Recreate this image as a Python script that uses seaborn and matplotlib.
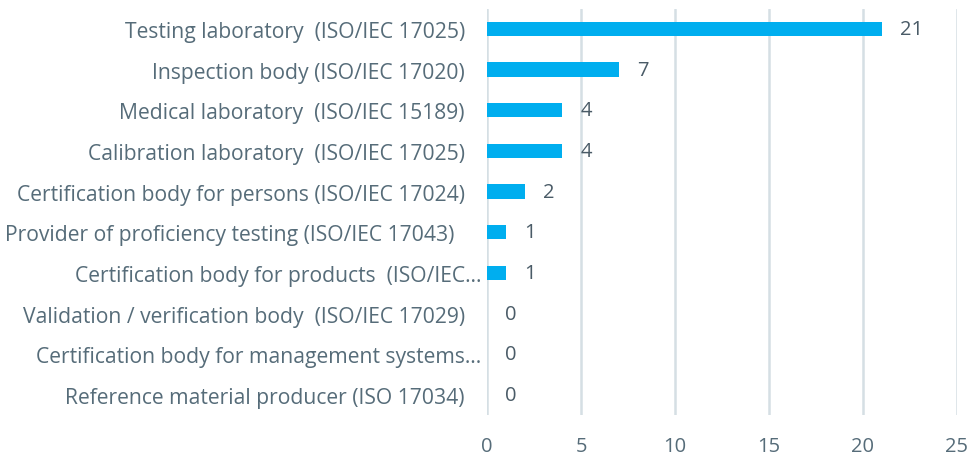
import pandas as pd
import matplotlib.pyplot as plt
import seaborn as sns

# Accreditation counts per conformity assessment body type
categories = [
    "Testing laboratory  (ISO/IEC 17025)   ",
    "Inspection body (ISO/IEC 17020)   ",
    "Medical laboratory  (ISO/IEC 15189)   ",
    "Calibration laboratory  (ISO/IEC 17025)   ",
    "Certification body for persons (ISO/IEC 17024)   ",
    "Provider of proficiency testing (ISO/IEC 17043)     ",
    "Certification body for products  (ISO/IEC…",
    "Validation / verification body  (ISO/IEC 17029)   ",
    "Certification body for management systems…",
    "Reference material producer (ISO 17034)   ",
]
counts = [21, 7, 4, 4, 2, 1, 1, 0, 0, 0]
x_ticks = [0, 5, 10, 15, 20, 25]

df = pd.DataFrame({"category": categories, "count": counts})

sns.set_style("white")
plt.rcParams["font.family"] = ["Open Sans", "DejaVu Sans"]

bar_color = "#00AEEF"
text_color = "#566C79"
grid_color = "#D5DFE4"

fig = plt.figure(figsize=(9.69, 4.56), dpi=100)
ax = fig.add_axes([0.5026, 0.087, 0.485, 0.892])

sns.barplot(data=df, y="category", x="count", orient="h", color=bar_color,
            width=0.35, saturation=1, linewidth=0, ax=ax)

ax.bar_label(ax.containers[0], padding=13, fontsize=14.5, color="#4A5B67")

ax.set_xlim(0, 25)
ax.set_xticks(x_ticks)
ax.grid(axis="x", color=grid_color, linewidth=1.8)
ax.set_axisbelow(True)
for s in ax.spines.values():
    s.set_visible(False)

ax.set_xlabel("")
ax.set_ylabel("")
ax.tick_params(axis="x", length=0, pad=15, labelsize=14.5, labelcolor=text_color)
ax.tick_params(axis="y", length=0, pad=4, labelsize=15.2, labelcolor=text_color)

plt.savefig("out.png", dpi=100)
